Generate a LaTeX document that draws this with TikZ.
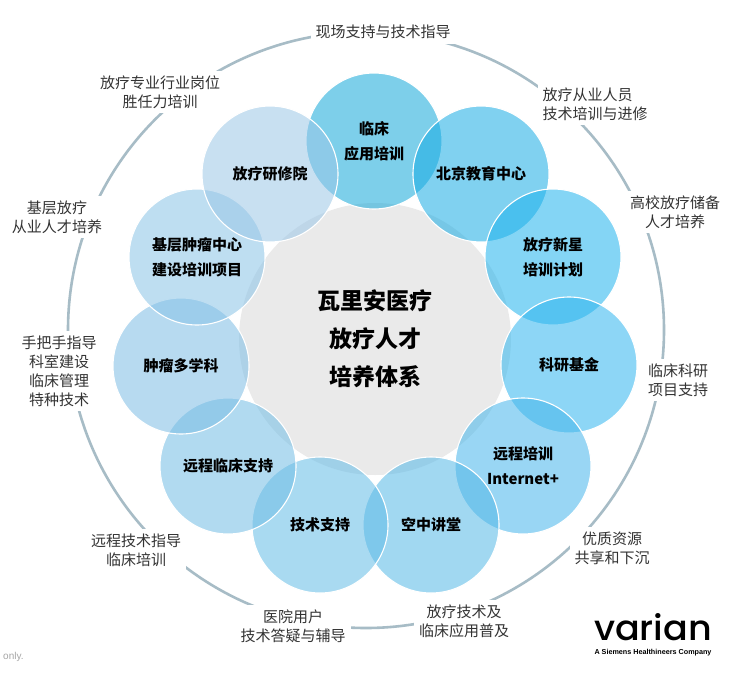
\documentclass[tikz,border=0pt]{standalone}
\usepackage{fontspec}
\setmainfont{Noto Sans CJK SC}
\newfontfamily\logofont{Poppins}[UprightFont=* Medium]
\newfontfamily\latinfont{Liberation Sans}
\definecolor{ring}{HTML}{A7BCC6}
\definecolor{core}{HTML}{EAEAEA}
\definecolor{lbl}{HTML}{333333}
\definecolor{cA}{RGB}{20,168,217}
\definecolor{cB}{RGB}{24,172,228}
\definecolor{cC}{RGB}{31,179,237}
\definecolor{cD}{RGB}{48,182,239}
\definecolor{cE}{RGB}{70,182,235}
\definecolor{cF}{RGB}{84,184,231}
\definecolor{cG}{RGB}{99,188,231}
\definecolor{cH}{RGB}{113,189,229}
\definecolor{cI}{RGB}{124,189,229}
\definecolor{cJ}{RGB}{137,195,231}
\definecolor{cK}{RGB}{155,199,231}
\tikzset{
  bubble/.style={circle, minimum size=136pt, inner sep=0pt, draw=white, line width=1.1pt, fill opacity=0.55, text opacity=1, align=center, font=\bfseries\fontsize{15}{25}\selectfont, text=black},
  outerlbl/.style={fill=white, inner sep=5pt, align=center, text=lbl, font=\fontsize{15}{19}\selectfont},
}
\begin{document}
\begin{tikzpicture}[x=1pt,y=-1pt]
\useasboundingbox (0,0) rectangle (744,680);
\fill[white] (0,0) rectangle (744,680);
% outer ring
\draw[ring, line width=2.6pt] (366,330) circle (298);
% core
\fill[core] (375,339) circle (136);
% bubbles in stacking order
\node[bubble, fill=cA] (b1) at (374,141) {临床\\应用培训};
\node[bubble, fill=cB] (b2) at (481,174) {北京教育中心};
\node[bubble, fill=cC] (b3) at (553,257) {放疗新星\\培训计划};
\node[bubble, fill=cD] (b4) at (569,365) {科研基金};
\node[bubble, fill=cE] (b5) at (523,466) {远程培训\\Internet+};
\node[bubble, fill=cF] (b6) at (431,525) {空中讲堂};
\node[bubble, fill=cG] (b7) at (320,525) {技术支持};
\node[bubble, fill=cH] (b8) at (228,466) {远程临床支持};
\node[bubble, fill=cI] (b9) at (181,366) {肿瘤多学科};
\node[bubble, fill=cJ] (b10) at (197,257) {基层肿瘤中心\\建设培训项目};
\node[bubble, fill=cK] (b11) at (270,174) {放疗研修院};
% centre text
\node[align=center, font=\bfseries\fontsize{23}{38}\selectfont, text=black] (core) at (375,339) {瓦里安医疗\\放疗人才\\培养体系};
% outer labels
\node[outerlbl] (l1) at (383,32) {现场支持与技术指导};
\node[outerlbl, align=left] (l2) at (595,104) {放疗从业人员\\技术培训与进修};
\node[outerlbl] (l3) at (675,212) {高校放疗储备\\人才培养};
\node[outerlbl] (l4) at (678,380) {临床科研\\项目支持};
\node[outerlbl] (l5) at (612,548) {优质资源\\共享和下沉};
\node[outerlbl] (l6) at (464,621) {放疗技术及\\临床应用普及};
\node[outerlbl] (l7) at (293,626) {医院用户\\技术答疑与辅导};
\node[outerlbl] (l8) at (136,550) {远程技术指导\\临床培训};
\node[outerlbl] (l9) at (59,371) {手把手指导\\科室建设\\临床管理\\特种技术};
\node[outerlbl] (l10) at (57,217) {基层放疗\\从业人才培养};
\node[outerlbl] (l11) at (160,92) {放疗专业行业岗位\\胜任力培训};
% logo
\node[inner sep=0pt, anchor=south] (logo) at (653,641) {\resizebox{118pt}{27pt}{\logofont varian}};
\node[inner sep=0pt, anchor=north] (logosub) at (653,649) {\resizebox{117pt}{!}{\latinfont\bfseries A Siemens Healthineers Company}};
\node[anchor=west, inner sep=0pt, text=black!35, font=\latinfont\fontsize{10}{12}\selectfont] (only) at (3,657) {only.};
\end{tikzpicture}
\end{document}
